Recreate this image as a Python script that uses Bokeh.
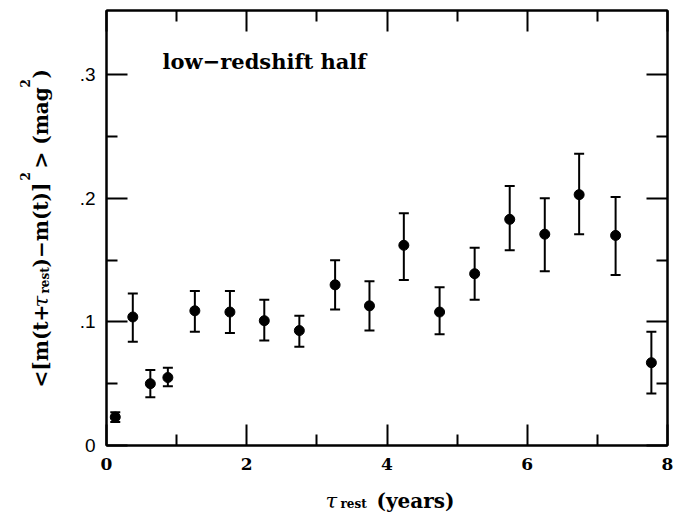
import math
from bokeh.plotting import figure
from bokeh.layouts import row, column
from bokeh.models import (ColumnDataSource, Whisker, TeeHead, LinearAxis, FixedTicker,
                          Range1d, Label, CustomJSTickFormatter)
from bokeh.embed import file_html
from bokeh.resources import INLINE

# data
tau = [0.125, 0.375, 0.625, 0.875, 1.26, 1.76, 2.25, 2.75, 3.26, 3.75,
       4.24, 4.75, 5.25, 5.75, 6.25, 6.74, 7.26, 7.77]
sf = [0.023, 0.104, 0.050, 0.055, 0.109, 0.108, 0.101, 0.093, 0.130, 0.113,
      0.162, 0.108, 0.139, 0.183, 0.171, 0.203, 0.170, 0.067]
sf_hi = [0.027, 0.123, 0.061, 0.063, 0.125, 0.125, 0.118, 0.105, 0.150, 0.133,
         0.188, 0.128, 0.160, 0.210, 0.200, 0.236, 0.201, 0.092]
sf_lo = [0.019, 0.084, 0.039, 0.048, 0.092, 0.091, 0.085, 0.080, 0.110, 0.093,
         0.134, 0.090, 0.118, 0.158, 0.141, 0.171, 0.138, 0.042]
x_ticks = [0, 2, 4, 6, 8]
x_minor = [1, 3, 5, 7]
y_ticks = [0, 0.1, 0.2, 0.3]
y_minor = [0.05, 0.15, 0.25]
y_tick_labels = {0: "0", 0.1: ".1", 0.2: ".2", 0.3: ".3"}
panel_label = "low−redshift half"

SERIF = "DejaVu Serif"
YL_W = 54                       # width of the y-title strip
L, R, T, B = 106, 667, 10, 445  # plot frame in page pixels

src = ColumnDataSource(dict(x=tau, y=sf, hi=sf_hi, lo=sf_lo))

# ---- main panel ----
p = figure(width=676 - YL_W, height=480, output_backend="svg", toolbar_location=None,
           x_range=Range1d(0, 8), y_range=Range1d(0, 0.352),
           min_border_left=L - YL_W, min_border_right=676 - R, min_border_top=T,
           min_border_bottom=480 - B,
           x_axis_location=None, y_axis_location=None)
p.background_fill_color = "white"
p.border_fill_color = "white"
p.outline_line_color = "black"
p.outline_line_width = 2
p.xgrid.visible = False
p.ygrid.visible = False

def style(ax, ticks, minor, show):
    ax.ticker = FixedTicker(ticks=ticks, minor_ticks=minor)
    ax.axis_line_color = "black"
    ax.axis_line_width = 2
    ax.major_tick_in = 21
    ax.major_tick_out = 0
    ax.minor_tick_in = 11
    ax.minor_tick_out = 0
    ax.major_tick_line_width = 2
    ax.minor_tick_line_width = 2
    ax.major_tick_line_color = "black"
    ax.minor_tick_line_color = "black"
    ax.major_label_text_color = "black"
    if not show:
        ax.formatter = CustomJSTickFormatter(code="return ''")
        ax.major_label_standoff = 0
        ax.major_label_text_font_size = "0px"

bx = LinearAxis()
style(bx, x_ticks, x_minor, True)
bx.major_label_text_font = SERIF
bx.major_label_text_font_style = "bold"
bx.major_label_text_font_size = "17px"
bx.major_label_standoff = 12
p.add_layout(bx, "below")

tx = LinearAxis()
style(tx, x_ticks, x_minor, False)
p.add_layout(tx, "above")

ly = LinearAxis()
style(ly, y_ticks, y_minor, True)
ly.major_label_overrides = y_tick_labels
ly.major_label_text_font = "Liberation Sans"
ly.major_label_text_font_size = "19px"
ly.major_label_standoff = 11
p.add_layout(ly, "left")

ry = LinearAxis()
style(ry, y_ticks, y_minor, False)
p.add_layout(ry, "right")

w = Whisker(source=src, base="x", upper="hi", lower="lo", dimension="height",
            line_width=2, line_color="black",
            upper_head=TeeHead(size=10, line_width=2, line_color="black"),
            lower_head=TeeHead(size=10, line_width=2, line_color="black"))
p.add_layout(w)
p.scatter("x", "y", source=src, size=10, color="black")

p.add_layout(Label(x=0.8, y=0.3105, text=panel_label, text_font=SERIF,
                   text_font_style="bold", text_font_size="21px", text_color="black",
                   text_baseline="alphabetic"))

# ---- title strips: data coordinates equal page pixels ----
def strip(width, height, xr, yr, bl, br, bt, bb):
    f = figure(width=width, height=height, output_backend="svg", toolbar_location=None,
               x_range=Range1d(*xr), y_range=Range1d(*yr),
               min_border_left=bl, min_border_right=br, min_border_top=bt,
               min_border_bottom=bb, x_axis_location=None, y_axis_location=None)
    f.outline_line_color = None
    f.xgrid.visible = False
    f.ygrid.visible = False
    f.background_fill_color = "white"
    f.border_fill_color = "white"
    return f

def piece(f, x, y, text, size, style="bold", angle=0.0):
    f.add_layout(Label(x=x, y=y, text=text, text_font=SERIF, text_font_style=style,
                       text_font_size=size, text_color="black", text_align="left",
                       text_baseline="alphabetic", angle=angle))

ylab = strip(YL_W, 513, (0, YL_W), (B, T), 0, 0, T, 513 - B)
A = math.pi / 2
piece(ylab, 40, 387, "<[m(t+", "20px", "bold", A)
piece(ylab, 40, 307, "τ", "21px", "italic", A)
piece(ylab, 44, 293, "rest", "12px", "bold", A)
piece(ylab, 40, 267, ")−m(t)]", "20px", "bold", A)
piece(ylab, 24, 180, "2", "12px", "bold", A)
piece(ylab, 40, 168, "> (mag", "20px", "bold", A)
piece(ylab, 24, 87, "2", "12px", "bold", A)
piece(ylab, 40, 78, ")", "20px", "bold", A)

xlab = strip(676 - YL_W, 33, (L, R), (513, 480), L - YL_W, 676 - R, 0, 0)
piece(xlab, 325, 500, "τ", "21px", "italic")
piece(xlab, 340, 503, "rest", "12px")
piece(xlab, 376, 500, "(years)", "20px")

layout = row(ylab, column(p, xlab, spacing=0), spacing=0)

open("out.html", "w").write(file_html(layout, INLINE))
